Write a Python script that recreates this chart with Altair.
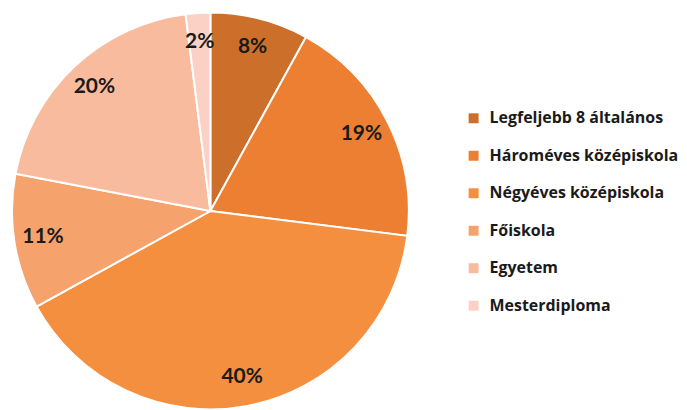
import altair as alt
import pandas as pd

categories = ["Legfeljebb 8 általános", "Hároméves középiskola", "Négyéves középiskola",
              "Főiskola", "Egyetem", "Mesterdiploma"]
values = [8, 19, 40, 11, 20, 2]
labels = ["8%", "19%", "40%", "11%", "20%", "2%"]
colors = ["#CB6F2B", "#ED7F32", "#F48F40", "#F5A26D", "#F8BB9E", "#FBD1C5"]

df = pd.DataFrame({"cat": categories, "val": values, "label": labels, "order": list(range(len(values)))})

color = alt.Color("cat:N", scale=alt.Scale(domain=categories, range=colors),
                  sort=categories,
                  legend=alt.Legend(title=None, orient="none", legendX=459, legendY=102,
                                    symbolType="square", symbolSize=100, symbolStrokeWidth=0,
                                    labelFont="Open Sans", labelFontSize=16, labelFontWeight="bold",
                                    labelColor="#1a1a1a", rowPadding=21.6, labelOffset=8,
                                    labelLimit=300))

base = alt.Chart(df).encode(
    theta=alt.Theta("val:Q", stack=True),
    order=alt.Order("order:Q"),
)

arcs = base.mark_arc(outerRadius=199, stroke="white", strokeWidth=2).encode(
    color=color, x=alt.value(203), y=alt.value(203)
)

text = base.mark_text(radius=170, font="Lato", fontSize=21, fontWeight="bold",
                      color="#1a1a1a", align="center", baseline="middle").encode(
    text="label:N", x=alt.value(203), y=alt.value(203)
)

chart = (arcs + text).properties(width=660, height=394, padding=0).configure_view(stroke=None)
chart.save("out.html", embed_options={"renderer": "svg", "actions": False})
